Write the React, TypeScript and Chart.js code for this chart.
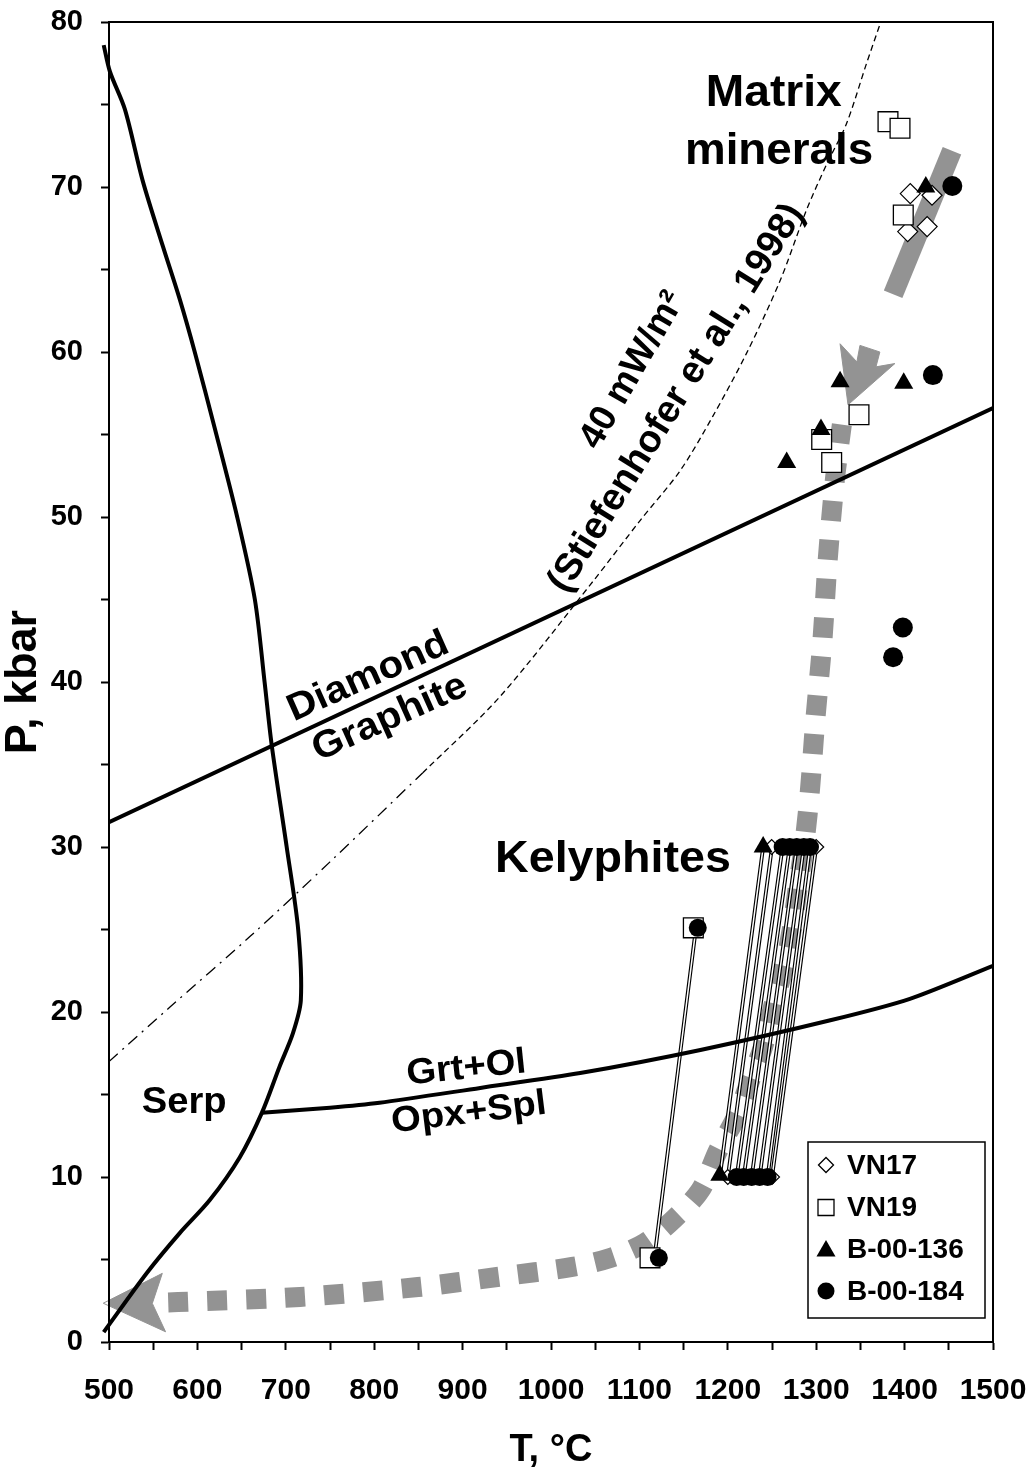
import React, { useEffect, useRef } from 'react';
import { Chart, registerables } from 'chart.js';

Chart.register(...registerables);

const FONT = "'Liberation Sans', Arial, Helvetica, sans-serif";
const GRAY = '#939393';

// ---- boundaries (T in °C, P in kbar) ----
const serpT = [494, 501, 518, 538, 561, 580, 597, 620, 645, 665, 676, 684, 701, 714, 717, 708, 693, 673, 648, 614, 580, 543, 494];
const serpP = [78.6, 77.0, 74.7, 70.4, 66.4, 63.2, 60, 55.3, 50, 45, 40, 36.2, 30, 25, 20.7, 18.7, 16.7, 13.9, 11.2, 8.6, 6.6, 4.2, 0.6];

const diamondGraphiteT = [500, 1500];
const diamondGraphiteP = [31.5, 56.6];

const grtOlT = [673, 750, 806, 920, 1033, 1169, 1316, 1406, 1500];
const grtOlP = [13.9, 14.2, 14.5, 15.4, 16.3, 17.7, 19.5, 20.8, 22.8];

const geothermLowT = [500, 569, 660, 750, 855];
const geothermLowP = [17.0, 20.3, 24.6, 29.1, 34.5];
const geothermUpT = [855, 942, 1047.5, 1101, 1146, 1183, 1221, 1259, 1289, 1312, 1334, 1357, 1373];
const geothermUpP = [34.5, 39.1, 46.1, 49.8, 52.8, 56.1, 59.9, 64.3, 68.6, 71.4, 73.8, 77.5, 80];

// ---- P-T paths ----
const kelyPathT = [567, 578, 716, 849.5, 939, 1024, 1067, 1106, 1140, 1169, 1189, 1211, 1227, 1240, 1253, 1265, 1273, 1279, 1287, 1293, 1299, 1307, 1313, 1321, 1329];
const kelyPathP = [2.4, 2.42, 2.73, 3.33, 3.94, 4.55, 5.09, 6.0, 7.5, 9.2, 11.6, 13.8, 16.1, 17.9, 20.7, 23.0, 25.2, 27.5, 30.4, 33.5, 37.7, 42.5, 47.4, 52.2, 55.6];

const arrowLowT = [493.5, 560.3, 549, 564, 493.5];
const arrowLowP = [2.35, 4.16, 2.34, 0.62, 2.35];

const arrowTopT = [1336, 1327, 1346, 1349.5, 1372, 1367.6, 1389, 1336];
const arrowTopP = [56.8, 60.5, 59.4, 60.4, 60.0, 59.1, 59.3, 56.8];

const matrixPathT = [1387, 1453.6];
const matrixPathP = [63.5, 72.2];

// ---- samples ----
const vn17T = [1406.4, 1431, 1403.5, 1425.5, 1249.6, 1300, 1200, 1250];
const vn17P = [69.6, 69.5, 67.3, 67.6, 30, 30, 10, 10];

const vn19T = [1381.2, 1394.8, 1398.5, 1348.4, 1306.2, 1317.5, 1161, 1112];
const vn19P = [73.96, 73.56, 68.3, 56.2, 54.7, 53.3, 25.1, 5.1];

const b136T = [1424, 1327, 1399, 1305.4, 1266.6, 1240, 1191];
const b136P = [70.0, 58.2, 58.1, 55.3, 53.3, 30, 10.1];

const b184T = [1454, 1432, 1387, 1398, 1262, 1270, 1278, 1286, 1293, 1210, 1218, 1227, 1236, 1245, 1166, 1122];
const b184P = [70.06, 58.6, 41.5, 43.3, 30, 30, 30, 30, 30, 10, 10, 10, 10, 10, 25.1, 5.1];

// kelyphite tie lines: from (rim, low P) to (core, high P)
const tieFromT = [1191, 1200, 1210, 1218, 1227, 1236, 1245, 1250, 1117];
const tieFromP = [10, 10, 10, 10, 10, 10, 10, 10, 5.1];
const tieToT = [1240, 1250, 1262, 1270, 1278, 1286, 1293, 1300, 1164];
const tieToP = [30, 30, 30, 30, 30, 30, 30, 30, 25.1];

const legendNames = ['VN17', 'VN19', 'B-00-136', 'B-00-184'];

const zip = (xs: number[], ys: number[]) => xs.map((x, i) => ({ x, y: ys[i] }));

const tieData = () => {
  const out: { x: number; y: number | null }[] = [];
  tieFromT.forEach((t, i) => {
    out.push({ x: t, y: tieFromP[i] });
    out.push({ x: tieToT[i], y: tieToP[i] });
    out.push({ x: tieToT[i], y: null });
  });
  return out;
};

type Ann = { text: string; T: number; P: number; size: number; angle: number; align: CanvasTextAlign; base: CanvasTextBaseline; sx: number };
const annotations: Ann[] = [
  { text: 'Matrix', T: 1252, P: 74.9, size: 44, angle: 0, align: 'center', base: 'alphabetic', sx: 1.05 },
  { text: 'minerals', T: 1258, P: 71.4, size: 44, angle: 0, align: 'center', base: 'alphabetic', sx: 1.04 },
  { text: 'Kelyphites', T: 936.7, P: 28.5, size: 44, angle: 0, align: 'left', base: 'alphabetic', sx: 1.06 },
  { text: 'Serp', T: 537, P: 13.9, size: 36, angle: 0, align: 'left', base: 'alphabetic', sx: 1.06 },
  { text: 'Diamond', T: 709, P: 37.6, size: 38, angle: -24, align: 'left', base: 'alphabetic', sx: 1.06 },
  { text: 'Graphite', T: 737, P: 35.2, size: 38, angle: -24, align: 'left', base: 'alphabetic', sx: 1.06 },
  { text: 'Grt+Ol', T: 838, P: 15.6, size: 36, angle: -6, align: 'left', base: 'alphabetic', sx: 1.06 },
  { text: 'Opx+Spl', T: 821, P: 12.7, size: 36, angle: -7, align: 'left', base: 'alphabetic', sx: 1.06 },
  { text: '40 mW/m²', T: 1092.5, P: 58.9, size: 37, angle: -60, align: 'center', base: 'middle', sx: 1.0 },
  { text: '(Stiefenhofer et al., 1998)', T: 1142, P: 57.2, size: 38, angle: -58, align: 'center', base: 'middle', sx: 1.0 },
];

function drawMarker(ctx: CanvasRenderingContext2D, style: string, x: number, y: number, r: number) {
  ctx.save();
  ctx.beginPath();
  ctx.lineWidth = 1.3;
  ctx.strokeStyle = '#000';
  if (style === 'diamond') {
    ctx.moveTo(x - r, y); ctx.lineTo(x, y - r); ctx.lineTo(x + r, y); ctx.lineTo(x, y + r); ctx.closePath();
    ctx.fillStyle = '#fff'; ctx.fill(); ctx.stroke();
  } else if (style === 'square') {
    ctx.rect(x - r, y - r, 2 * r, 2 * r);
    ctx.fillStyle = '#fff'; ctx.fill(); ctx.stroke();
  } else if (style === 'triangle') {
    ctx.moveTo(x, y - r); ctx.lineTo(x + r * 0.866, y + r * 0.5); ctx.lineTo(x - r * 0.866, y + r * 0.5); ctx.closePath();
    ctx.fillStyle = '#000'; ctx.fill();
  } else {
    ctx.arc(x, y, r, 0, Math.PI * 2);
    ctx.fillStyle = '#000'; ctx.fill();
  }
  ctx.restore();
}

const bgPlugin = {
  id: 'bg',
  beforeDraw(chart: any) {
    const ctx = chart.ctx;
    ctx.save();
    ctx.fillStyle = '#fff';
    ctx.fillRect(0, 0, chart.width, chart.height);
    ctx.restore();
  },
};

const overlayPlugin = {
  id: 'overlay',
  afterDraw(chart: any) {
    const ctx: CanvasRenderingContext2D = chart.ctx;
    const { left, right, top, bottom } = chart.chartArea;
    const xs = chart.scales.x;
    const ys = chart.scales.y;
    // frame
    ctx.save();
    ctx.strokeStyle = '#000';
    ctx.lineWidth = 2;
    ctx.strokeRect(left, top, right - left, bottom - top);
    ctx.restore();
    // text annotations
    annotations.forEach((a) => {
      ctx.save();
      ctx.translate(xs.getPixelForValue(a.T), ys.getPixelForValue(a.P));
      ctx.rotate((a.angle * Math.PI) / 180);
      ctx.scale(a.sx, 1);
      ctx.font = `bold ${a.size}px ${FONT}`;
      ctx.fillStyle = '#000';
      ctx.textAlign = a.align;
      ctx.textBaseline = a.base;
      ctx.fillText(a.text, 0, 0);
      ctx.restore();
    });
    // legend
    const bw = 177, bh = 176;
    const bx = right - 8 - bw;
    const by = bottom - 24 - bh;
    ctx.save();
    ctx.fillStyle = '#fff';
    ctx.fillRect(bx, by, bw, bh);
    ctx.strokeStyle = '#000';
    ctx.lineWidth = 1.5;
    ctx.strokeRect(bx, by, bw, bh);
    const rows = [23, 65.5, 107, 149];
    const styles = ['diamond', 'square', 'triangle', 'circle'];
    const radii = [7.5, 8, 11, 8.5];
    legendNames.forEach((name, i) => {
      const cy = by + rows[i];
      drawMarker(ctx, styles[i], bx + 18, styles[i] === 'triangle' ? cy + 2 : cy, radii[i]);
      ctx.font = `bold 28px ${FONT}`;
      ctx.fillStyle = '#000';
      ctx.textAlign = 'left';
      ctx.textBaseline = 'middle';
      ctx.fillText(name, bx + 39, cy + 1);
    });
    ctx.restore();
  },
};

const lineDs = (label: string, data: any[], color: string, width: number, extra: any = {}) => ({
  label,
  data,
  showLine: true,
  borderColor: color,
  backgroundColor: color,
  borderWidth: width,
  pointRadius: 0,
  pointHoverRadius: 0,
  tension: 0,
  ...extra,
});

const noPad = (s: any) => {
  s.paddingLeft = 0;
  s.paddingRight = 0;
  s.paddingTop = 0;
  s.paddingBottom = 0;
};

export default function App() {
  const ref = useRef<HTMLCanvasElement | null>(null);
  useEffect(() => {
    if (!ref.current) return;
    const markerSize = (big: number, small: number) => (c: any) => (c.raw && c.raw.y > 32 ? big : small);
    const datasets: any[] = [
      {
        label: 'B-00-184', data: zip(b184T, b184P), pointStyle: 'circle',
        pointRadius: markerSize(10, 9), backgroundColor: '#000', borderColor: '#000', borderWidth: 0, showLine: false,
      },
      {
        label: 'B-00-136', data: zip(b136T, b136P), pointStyle: 'triangle',
        pointRadius: 11, backgroundColor: '#000', borderColor: '#000', borderWidth: 0, showLine: false,
      },
      {
        label: 'VN19', data: zip(vn19T, vn19P), pointStyle: 'rect',
        pointRadius: 14, backgroundColor: '#fff', borderColor: '#000', borderWidth: 1.3, showLine: false,
      },
      {
        label: 'VN17', data: zip(vn17T, vn17P), pointStyle: 'rectRot',
        pointRadius: markerSize(10, 7.5), backgroundColor: '#fff', borderColor: '#000', borderWidth: 1.2, showLine: false,
      },
      lineDs('Grt+Ol / Opx+Spl', zip(grtOlT, grtOlP), '#000', 4, { tension: 0.25 }),
      lineDs('tie-white', tieData(), '#fff', 1.5, { spanGaps: false }),
      lineDs('tie-black', tieData(), '#000', 3.8, { spanGaps: false }),
      lineDs('Diamond / Graphite', zip(diamondGraphiteT, diamondGraphiteP), '#000', 4),
      lineDs('Serp', zip(serpT, serpP), '#000', 4, { tension: 0.3, clip: false }),
      lineDs('40 mW/m2 upper', zip(geothermUpT, geothermUpP), '#000', 1.3, { tension: 0.3, borderDash: [6, 4] }),
      lineDs('40 mW/m2 lower', zip(geothermLowT, geothermLowP), '#000', 1.3, { tension: 0.3, borderDash: [12, 6, 2, 6] }),
      lineDs('matrix path', zip(matrixPathT, matrixPathP), GRAY, 20, { borderCapStyle: 'butt' }),
      lineDs('arrow top', zip(arrowTopT, arrowTopP), GRAY, 1, { fill: 'shape', backgroundColor: GRAY }),
      lineDs('arrow low', zip(arrowLowT, arrowLowP), GRAY, 1, { fill: 'shape', backgroundColor: GRAY, clip: false }),
      lineDs('kelyphite path', zip(kelyPathT, kelyPathP), GRAY, 20, { tension: 0.3, borderDash: [20, 19], borderCapStyle: 'butt' }),
    ];
    const tickFont = { family: FONT, size: 30, weight: 'bold' as const };
    const chart = new Chart(ref.current, {
      type: 'scatter',
      data: { datasets },
      options: {
        animation: false,
        responsive: false,
        devicePixelRatio: 1,
        events: [],
        layout: { padding: { left: 0, top: 22, right: 38, bottom: 0 } },
        plugins: { legend: { display: false }, tooltip: { enabled: false } },
        scales: {
          x: {
            type: 'linear', min: 500, max: 1500,
            ticks: {
              stepSize: 50, autoSkip: false, maxRotation: 0, minRotation: 0, padding: 23, color: '#000', font: tickFont,
              callback: (v: any) => (Number(v) % 100 === 0 ? String(v) : ''),
            },
            grid: { drawOnChartArea: false, drawTicks: true, tickLength: 8, tickWidth: 2, tickColor: '#000' },
            border: { display: true, color: '#000', width: 2 },
            title: { display: true, text: 'T, °C', color: '#000', font: { family: FONT, size: 38, weight: 'bold' }, padding: { top: 0, bottom: 4 } },
            afterFit: (s: any) => { s.height = 135; noPad(s); },
          },
          y: {
            type: 'linear', min: 0, max: 80,
            ticks: {
              stepSize: 5, autoSkip: false, padding: 18, color: '#000', font: { family: FONT, size: 29, weight: 'bold' },
              callback: (v: any) => (Number(v) % 10 === 0 ? String(v) : ''),
            },
            grid: { drawOnChartArea: false, drawTicks: true, tickLength: 8, tickWidth: 2, tickColor: '#000' },
            border: { display: true, color: '#000', width: 2 },
            title: { display: true, text: 'P, kbar', color: '#000', font: { family: FONT, size: 45, weight: 'bold' }, padding: { top: -3, bottom: 0 } },
            afterFit: (s: any) => { s.width = 109; noPad(s); },
          },
        },
      } as any,
      plugins: [bgPlugin, overlayPlugin],
    });
    return () => chart.destroy();
  }, []);
  return (
    <div style={{ position: 'absolute', left: 0, top: 0, width: 1031, height: 1477 }}>
      <canvas ref={ref} width={1031} height={1477} style={{ width: 1031, height: 1477, display: 'block' }} />
    </div>
  );
}
